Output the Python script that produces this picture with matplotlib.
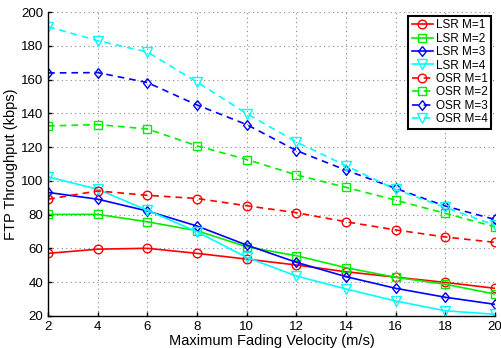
import matplotlib
matplotlib.use("Agg")
import matplotlib.pyplot as plt

plt.rcParams['font.family'] = ['Liberation Sans', 'DejaVu Sans']

velocity = [2, 4, 6, 8, 10, 12, 14, 16, 18, 20]

lsr_m1 = [57.1, 59.6, 60.1, 57.1, 53.7, 50.2, 46.2, 43.0, 39.9, 36.4]
lsr_m2 = [80.2, 80.2, 75.8, 70.5, 61.0, 55.7, 48.6, 42.9, 38.8, 33.0]
lsr_m3 = [93.2, 89.2, 82.2, 73.3, 62.0, 51.8, 43.3, 36.4, 31.1, 26.9]
lsr_m4 = [102.4, 95.1, 82.6, 69.9, 54.7, 43.7, 36.0, 28.9, 23.1, 21.0]
osr_m1 = [89.2, 94.1, 91.5, 89.6, 85.3, 81.2, 75.8, 71.0, 66.8, 63.6]
osr_m2 = [132.6, 133.4, 130.8, 120.8, 112.7, 103.6, 96.2, 88.6, 80.8, 72.8]
osr_m3 = [164.0, 164.2, 158.3, 145.0, 133.4, 118.0, 106.4, 95.6, 85.1, 77.2]
osr_m4 = [191.4, 183.1, 176.4, 158.6, 139.9, 123.1, 109.0, 95.0, 84.3, 73.8]

labels = ["LSR M=1", "LSR M=2", "LSR M=3", "LSR M=4",
          "OSR M=1", "OSR M=2", "OSR M=3", "OSR M=4"]
series = [lsr_m1, lsr_m2, lsr_m3, lsr_m4, osr_m1, osr_m2, osr_m3, osr_m4]
colors = ["#ff0000", "#00ee00", "#0000ff", "#00ffff"] * 2
diamond = [(0, 1), (0.8, 0), (0, -1), (-0.8, 0), (0, 1)]
markers = ["o", "s", diamond, "v"] * 2
styles = ["-"] * 4 + ["--"] * 4
msizes = [6.2, 5.2, 7, 6.5] * 2

fig = plt.figure(figsize=(5.01, 3.48), dpi=100)
ax = fig.add_axes([0.096, 0.092, 0.892, 0.873])

for y, lab, c, m, ls, ms in zip(series, labels, colors, markers, styles, msizes):
    ax.plot(velocity, y, linestyle=ls, color=c, marker=m, markersize=ms,
            markerfacecolor='none', markeredgecolor=c, markeredgewidth=1.0,
            linewidth=1.2, label=lab, dashes=(4, 3) if ls == "--" else (None, None))

ax.set_xlim(2, 20)
ax.set_ylim(20, 200)
ax.set_xticks(range(2, 21, 2))
ax.set_yticks(range(20, 201, 20))
ax.grid(True, linestyle=(0, (1, 3)), color='#888888', linewidth=0.8)
ax.spines['top'].set_visible(False)
ax.spines['right'].set_visible(False)
ax.spines['left'].set_linewidth(1.0)
ax.spines['bottom'].set_linewidth(1.0)
ax.tick_params(direction='in', labelsize=9.5, length=3, width=1.0)
ax.set_xlabel("Maximum Fading Velocity (m/s)", fontsize=10.5, labelpad=1)
ax.set_ylabel("FTP Throughput (kbps)", fontsize=10.5, labelpad=2)

leg = ax.legend(loc='upper right', fontsize=8.5, frameon=True, fancybox=False,
                handlelength=1.8, handletextpad=0.25, borderpad=0.3,
                labelspacing=0.12, borderaxespad=0.3)
leg.get_frame().set_edgecolor('black')
leg.get_frame().set_linewidth(1.5)
leg.get_frame().set_alpha(1)

fig.savefig("out.png", dpi=100)
